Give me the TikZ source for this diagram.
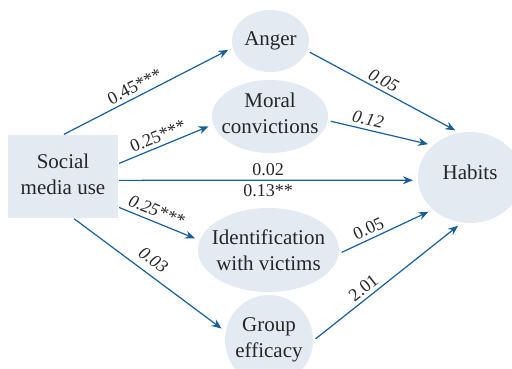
\documentclass[tikz,border=0pt]{standalone}
\usepackage{fontspec}
\setmainfont{Liberation Serif}
\usetikzlibrary{shapes.geometric,arrows.meta}
\definecolor{nodefill}{HTML}{E3EAF2}
\definecolor{arrowc}{HTML}{1B5E96}
\definecolor{txtc}{HTML}{262626}
\begin{document}
\begin{tikzpicture}[x=1pt,y=-1pt,
  ell/.style={ellipse, fill=nodefill, inner sep=0pt},
  boxnode/.style={rectangle, fill=nodefill, inner sep=0pt},
  nodetext/.style={text=txtc, font=\fontsize{21}{26}\selectfont, align=center, inner sep=0pt},
  arr/.style={draw=arrowc, line width=1.2pt, -{Stealth[length=10pt,width=8pt]}, shorten >=5pt, shorten <=3pt},
  lbl/.style={text=txtc, font=\fontsize{18}{20}\selectfont, inner sep=3.5pt},
  ilbl/.style={lbl, font=\fontsize{18}{20}\selectfont\itshape}
]
\useasboundingbox (0,0) rectangle (512,369);
\clip (0,0) rectangle (512,369);

\node[boxnode, minimum width=110pt, minimum height=83pt,
      label={[nodetext, yshift=2pt]center:Social\\media use}] (social) at (63,176.5) {};
\node[ell, minimum width=77pt, minimum height=62pt,
      label={[nodetext]center:Anger}] (anger) at (270.5,41) {};
\node[ell, minimum width=116pt, minimum height=73pt,
      label={[nodetext, yshift=3pt]center:Moral\\convictions}] (moral) at (270,116.5) {};
\node[ell, minimum width=104pt, minimum height=91pt,
      label={[nodetext, yshift=5pt]center:Habits}] (habits) at (470,177.5) {};
\node[ell, minimum width=141pt, minimum height=84pt,
      label={[nodetext]center:Identification\\with victims}] (ident) at (268.5,250) {};
\node[ell, minimum width=88pt, minimum height=90pt,
      label={[nodetext]center:Group\\efficacy}] (group) at (269,340) {};

\draw[arr, shorten <=1pt] (social.north) -- node[lbl, sloped, above, pos=0.45]{0.45***} (anger.190);
\draw[arr, shorten <=1pt] (social.13.8) -- node[lbl, sloped, above, pos=0.46]{0.25***} (moral.188.7);
\draw[arr, shorten <=1pt] (social.-4.7) -- node[lbl, above, pos=0.50]{0.02} node[lbl, below, pos=0.50]{0.13**} (habits.183.6);
\draw[arr, shorten <=1pt] (social.-29.8) -- node[ilbl, sloped, above=1pt, pos=0.42]{0.25***} (ident.172.6);
\draw[arr, shorten <=1pt] (social.-76.5) -- node[ilbl, sloped, above=4pt, pos=0.47]{0.03} (group.169.6);

\draw[arr] (anger.-15.6) -- node[ilbl, sloped, above, pos=0.47]{0.05} (habits.103);
\draw[arr] (moral.-4.2) -- node[ilbl, sloped, above, pos=0.36]{0.12} (habits.139);
\draw[arr] (ident.-3.8) -- node[lbl, sloped, above, pos=0.36]{0.05} (habits.221.8);
\draw[arr] (group.-1.2) -- node[lbl, sloped, above, pos=0.38]{2.01} (habits.260);
\end{tikzpicture}
\end{document}
